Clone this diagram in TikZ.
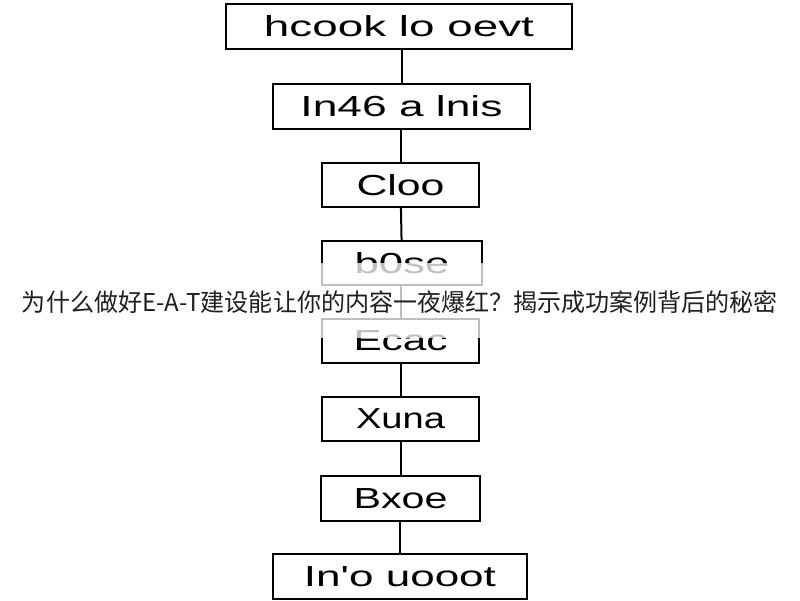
\documentclass[tikz,border=0pt]{standalone}
\usepackage{fontspec}
\usepackage{graphicx}
\setmainfont{Liberation Sans}
\newfontfamily\cjkfont{Noto Sans CJK SC}
\newcommand\stretchto[2]{\resizebox{#1}{\height}{#2}}
\begin{document}
\begin{tikzpicture}[x=1pt,y=-1pt,
  box/.style={draw=black, line width=1.8pt, minimum height=45pt, inner sep=0pt, fill=white,
    font=\fontsize{29}{29}\selectfont},
  link/.style={draw=black, line width=2pt}]
\useasboundingbox (0,0) rectangle (800,600);
\clip (0,0) rectangle (800,600);
\node[box, minimum width=346pt] (b1) at (399,26.5) {\stretchto{270pt}{hcook lo oevt}};
\node[box, minimum width=257pt] (b2) at (401.5,106.5) {\stretchto{202pt}{In46 a lnis}};
\node[box, minimum width=157pt, minimum height=44pt] (b3) at (400.5,185) {\stretchto{88pt}{Cloo}};
\node[box, minimum width=160pt, minimum height=44pt] (b4) at (402,263) {\stretchto{95pt}{b0se}};
\node[box, minimum width=157pt, minimum height=44pt] (b5) at (400.5,341) {\stretchto{94pt}{Ecac}};
\node[box, minimum width=157pt, minimum height=44pt] (b6) at (400.5,419) {\stretchto{89pt}{Xuna}};
\node[box, minimum width=159pt] (b7) at (400.5,498.5) {\stretchto{94pt}{Bxoe}};
\node[box, minimum width=254pt] (b8) at (400,576.5) {\stretchto{192pt}{In\textquotesingle o uooot}};
\draw[link] (b2.north |- b1.south) -- (b2.north);
\draw[link] (b2.south -| b3.north) -- (b3.north);
\draw[link] (b3) -- (b4);
\draw[link] (b4.south -| b5.north) -- (b5.north);
\draw[link] (b5) -- (b6);
\draw[link] (b6) -- (b7);
\draw[link] (b7.south -| b8.north) -- (b8.north);
\fill[white, opacity=0.75] (0,263) rectangle (800,338);
\node[font=\cjkfont\fontsize{24.5}{24.5}\selectfont, text=black!88, inner sep=0pt] (title) at (400,302)
  {\stretchto{756pt}{为什么做好E-A-T建设能让你的内容一夜爆红？揭示成功案例背后的秘密}};
\end{tikzpicture}
\end{document}
